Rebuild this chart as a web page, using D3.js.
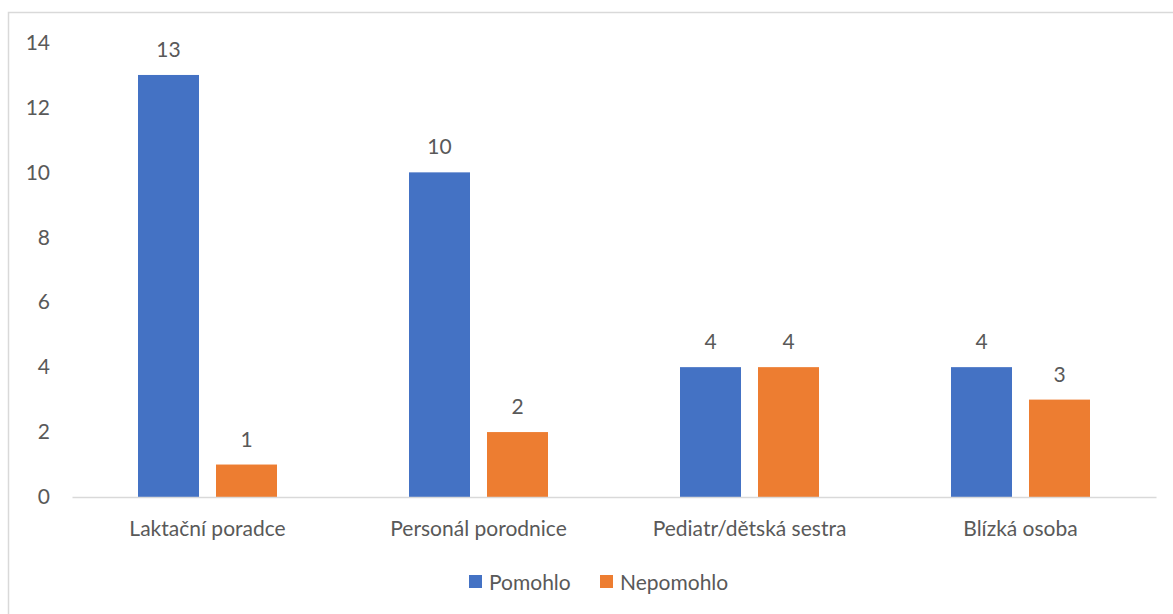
<!DOCTYPE html>
<html>
<head>
<meta charset="utf-8">
<script src="https://cdn.jsdelivr.net/npm/d3@7"></script>
<style>
  html, body { margin: 0; padding: 0; background: #fff; }
  svg { display: block; }
  text { font-family: Lato, "Open Sans", sans-serif; fill: #595959; }
</style>
</head>
<body>
<svg id="chart" width="1173" height="614"></svg>
<script>
// Categories, series and values
const categories = ["Laktační poradce", "Personál porodnice", "Pediatr/dětská sestra", "Blízká osoba"];
const seriesNames = ["Pomohlo", "Nepomohlo"];
const pomohlo = [13, 10, 4, 4];
const nepomohlo = [1, 2, 4, 3];
const yTicks = [0, 2, 4, 6, 8, 10, 12, 14];
const colors = ["#4472C4", "#ED7D31"];

const seriesValues = [pomohlo, nepomohlo];
const FONT = "21px";

const svg = d3.select("#chart");
const W = 1173, H = 614;

// Chart frame
svg.append("rect")
  .attr("x", 8.5).attr("y", 12.5)
  .attr("width", W + 10).attr("height", H + 10)
  .attr("fill", "#fff").attr("stroke", "#d9d9d9").attr("stroke-width", 1.5);

const plot = { left: 72, right: 1156, top: 42.5, bottom: 497 };

const y = d3.scaleLinear().domain([0, 14]).range([plot.bottom, plot.top]);
const x0 = d3.scaleBand().domain(categories).range([plot.left, plot.right]).padding(0);
const groupW = 139;
const x1 = d3.scaleBand().domain(seriesNames).range([0, groupW]).paddingInner(17 / 78).paddingOuter(0);

// Y axis labels (no axis line, no gridlines)
const yAxis = d3.axisLeft(y).tickValues(yTicks).tickSize(0).tickPadding(0);
const yg = svg.append("g").attr("transform", `translate(50,0)`).call(yAxis);
yg.select(".domain").remove();
yg.selectAll("text").style("font-size", FONT).style("fill", "#595959")
  .style("font-family", "Lato, 'Open Sans', sans-serif");

// Bars with value labels
categories.forEach((cat, i) => {
  const gx = x0(cat) + (x0.bandwidth() - groupW) / 2;
  seriesNames.forEach((s, j) => {
    const v = seriesValues[j][i];
    svg.append("rect")
      .attr("x", gx + x1(s))
      .attr("y", y(v))
      .attr("width", x1.bandwidth())
      .attr("height", y(0) - y(v))
      .attr("fill", colors[j]);
    svg.append("text")
      .attr("x", gx + x1(s) + x1.bandwidth() / 2)
      .attr("y", y(v) - 18)
      .attr("text-anchor", "middle")
      .style("font-size", FONT)
      .text(v);
  });
});

// X axis: baseline and category labels
const xAxis = d3.axisBottom(x0).tickSize(0).tickPadding(24);
const xg = svg.append("g").attr("transform", `translate(0,${plot.bottom})`).call(xAxis);
xg.select(".domain").attr("stroke", "#d9d9d9").attr("stroke-width", 1.5);
xg.selectAll("text").style("font-size", FONT).style("fill", "#595959")
  .style("font-family", "Lato, 'Open Sans', sans-serif");

// Legend
const legend = svg.append("g").attr("transform", "translate(0,582)");
const legendItems = [{ name: seriesNames[0], x: 469 }, { name: seriesNames[1], x: 600 }];
legendItems.forEach((d, j) => {
  legend.append("rect").attr("x", d.x).attr("y", -7).attr("width", 13).attr("height", 13).attr("fill", colors[j]);
  legend.append("text").attr("x", d.x + 20).attr("y", 7.5).style("font-size", FONT).text(d.name);
});
</script>
</body>
</html>
